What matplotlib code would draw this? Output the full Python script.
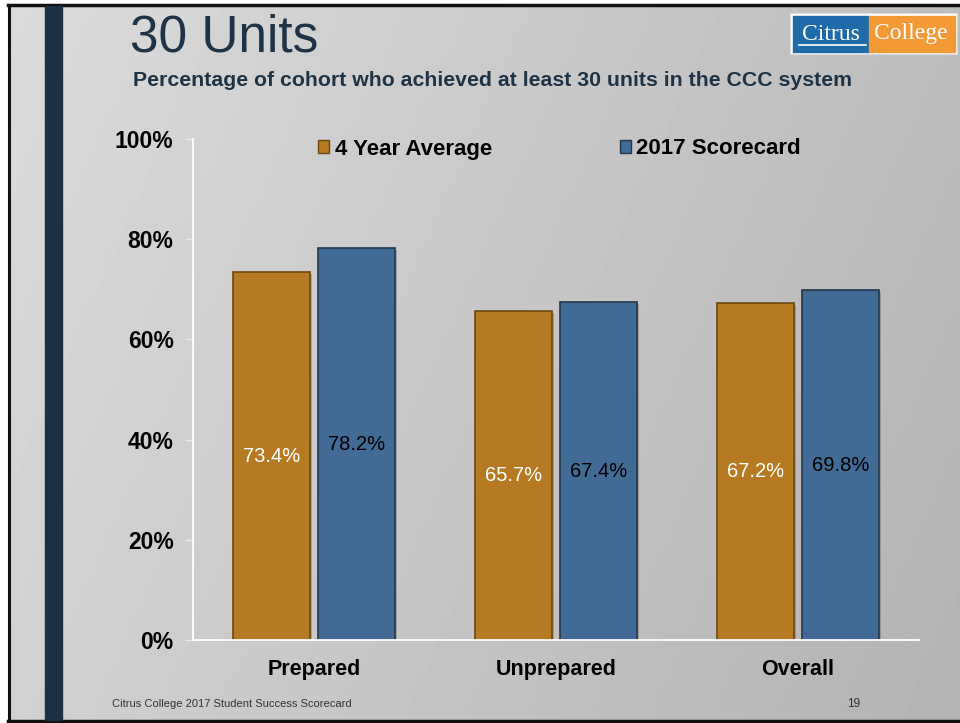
import numpy as np
import matplotlib
matplotlib.use("Agg")
import matplotlib.pyplot as plt
from matplotlib.patches import Rectangle, Patch

categories = ["Prepared", "Unprepared", "Overall"]
series_names = ["4 Year Average", "2017 Scorecard"]
avg4 = [73.4, 65.7, 67.2]
score2017 = [78.2, 67.4, 69.8]
yticks = [0, 20, 40, 60, 80, 100]
ytick_labels = ["0%", "20%", "40%", "60%", "80%", "100%"]

W, H = 960, 723
fig = plt.figure(figsize=(W / 100, H / 100), dpi=100)

# background (pixel coordinates)
bg = fig.add_axes([0, 0, 1, 1])
bg.set_xlim(0, W)
bg.set_ylim(H, 0)
bg.axis("off")
xx, yy = np.meshgrid(np.linspace(0, 1, 200), np.linspace(0, 1, 150))
grad = 0.86 - 0.16 * (0.75 * xx + 0.25 * yy)
bg.imshow(grad, cmap="gray", vmin=0, vmax=1, extent=[0, W, H, 0], aspect="auto", zorder=0)
# white margin left / top
bg.add_patch(Rectangle((0, 0), 8, H, color="white", zorder=1))
bg.add_patch(Rectangle((0, 0), W, 4, color="white", zorder=1))
# black frame
bg.plot([9, 9], [5, 721], color="#111111", lw=2.2, zorder=2)
bg.plot([8, W], [5, 5], color="#111111", lw=2.5, zorder=2)
bg.plot([8, W], [720.5, 720.5], color="#111111", lw=2.5, zorder=2)
# dark vertical stripe
bg.add_patch(Rectangle((45, 6), 17, 714, color="#1d2f41", zorder=2))

# titles
bg.text(130, 38, "30 Units", fontsize=37, family="Liberation Sans", color="#1f3347",
        va="center", ha="left", zorder=3)
bg.text(133, 80, "Percentage of cohort who achieved at least 30 units in the CCC system",
        fontsize=15.3, family="Liberation Sans", fontweight="bold", color="#1f3347",
        va="center", ha="left", zorder=3)

# logo
bg.add_patch(Rectangle((790, 13), 167, 41, facecolor="white", edgecolor="#dddddd", lw=0.8, zorder=3))
bg.add_patch(Rectangle((793, 16), 76, 36, color="#1f6aa8", zorder=4))
bg.add_patch(Rectangle((869, 16), 86, 36, color="#f39a36", zorder=4))
bg.text(831, 34, "Citrus", fontsize=17, family="Liberation Serif", color="white",
        ha="center", va="center", zorder=5)
bg.plot([799, 866], [45, 45], color="white", lw=1.2, zorder=5)
bg.text(911, 34, "College", fontsize=17, family="Liberation Serif", color="white",
        ha="center", va="center", zorder=5)

# footer
bg.text(112, 704, "Citrus College 2017 Student Success Scorecard", fontsize=8,
        family="Liberation Sans", color="#333333", ha="left", va="center", zorder=3)
bg.text(854, 704, "19", fontsize=8.5, family="Liberation Sans", color="#333333",
        ha="center", va="center", zorder=3)

# chart axes
left, right = 193 / W, 919 / W
bottom, top = 1 - 640 / H, 1 - 139 / H
ax = fig.add_axes([left, bottom, right - left, top - bottom])
ax.patch.set_alpha(0)
ax.set_xlim(-0.5, len(categories) - 0.5)
ax.set_ylim(0, 100)

x = np.arange(len(categories))
bw = 0.318
off = 0.176
c_or, e_or = "#b67a22", "#6e4710"
c_bl, e_bl = "#416b94", "#22374d"

for xi, v in zip(x, avg4):
    ax.bar(xi - off + 0.008, v, width=bw, bottom=-0.4, color="#555555", alpha=0.35, zorder=2, lw=0)
for xi, v in zip(x, score2017):
    ax.bar(xi + off + 0.008, v, width=bw, bottom=-0.4, color="#555555", alpha=0.35, zorder=2, lw=0)
ax.bar(x - off, avg4, width=bw, color=c_or, edgecolor=e_or, linewidth=1.2, zorder=3)
ax.bar(x + off, score2017, width=bw, color=c_bl, edgecolor=e_bl, linewidth=1.2, zorder=3)

for xi, v in zip(x, avg4):
    ax.text(xi - off, v / 2, f"{v:.1f}%", color="white", fontsize=14.5,
            family="Liberation Sans", ha="center", va="center", zorder=4)
for xi, v in zip(x, score2017):
    ax.text(xi + off, v / 2, f"{v:.1f}%", color="black", fontsize=14.5,
            family="Liberation Sans", ha="center", va="center", zorder=4)

for s in ["top", "right"]:
    ax.spines[s].set_visible(False)
for s in ["left", "bottom"]:
    ax.spines[s].set_color("white")
    ax.spines[s].set_linewidth(1.3)
    ax.spines[s].set_zorder(5)

ax.set_yticks(yticks)
ax.set_yticklabels(ytick_labels, fontsize=16.5, family="Liberation Sans", fontweight="bold")
ax.tick_params(axis="y", direction="out", length=6, width=1, color="#e8e8e8", pad=8)
ax.set_xticks(x)
ax.set_xticklabels(categories, fontsize=15.5, family="Liberation Sans", fontweight="bold")
ax.tick_params(axis="x", length=0, pad=14)

handles = [Patch(facecolor=c_or, edgecolor=e_or, lw=1), Patch(facecolor=c_bl, edgecolor=e_bl, lw=1)]
fig.legend(handles, series_names, loc="center left", bbox_to_anchor=(318 / W, 1 - 149 / H),
           ncol=2, frameon=False, borderpad=0, borderaxespad=0, handlelength=0.5,
           handleheight=0.5, handletextpad=0.25, columnspacing=5.75,
           prop={"family": "Liberation Sans", "weight": "bold", "size": 16})

fig.savefig("out.png", dpi=100)
